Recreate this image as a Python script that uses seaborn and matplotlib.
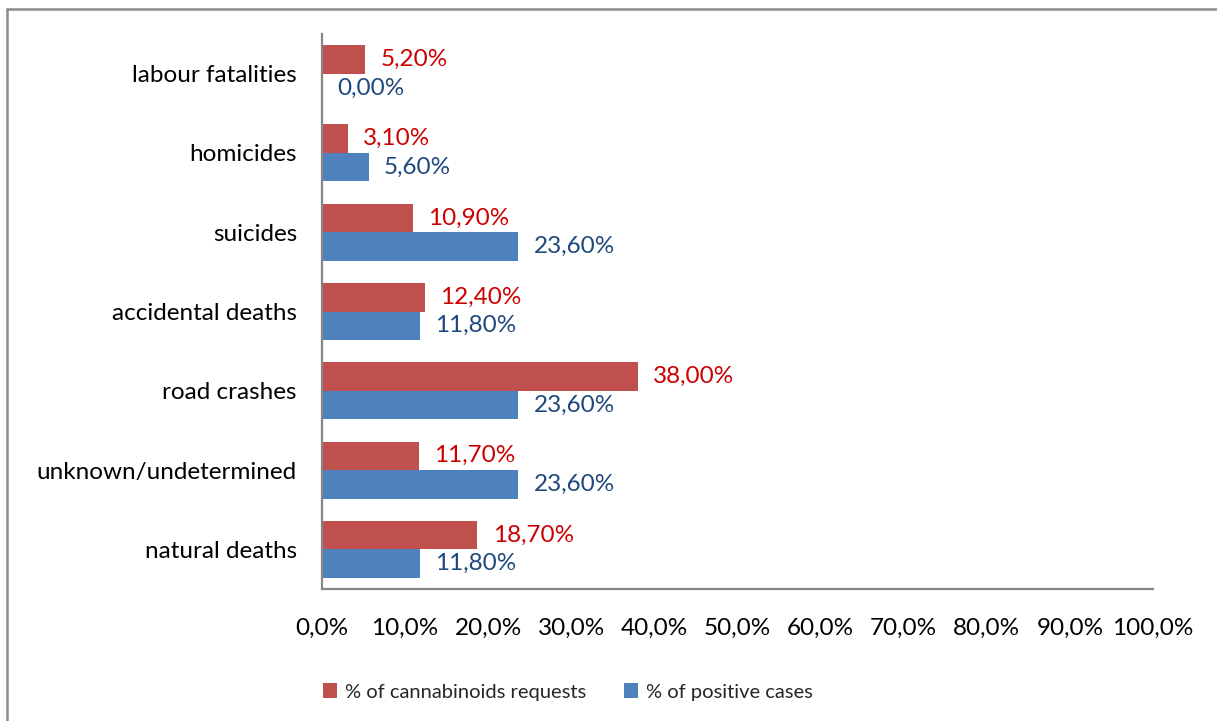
import matplotlib
matplotlib.use("Agg")
import matplotlib.pyplot as plt
from matplotlib.lines import Line2D
from matplotlib.patches import Patch
import pandas as pd
import seaborn as sns

categories = ["labour fatalities", "homicides", "suicides", "accidental deaths",
              "road crashes", "unknown/undetermined", "natural deaths"]
requests_pct = [5.2, 3.1, 10.9, 12.4, 38.0, 11.7, 18.7]
positive_pct = [0.0, 5.6, 23.6, 11.8, 23.6, 23.6, 11.8]
series_names = ["% of cannabinoids requests", "% of positive cases"]
x_ticks = [0, 10, 20, 30, 40, 50, 60, 70, 80, 90, 100]

bar_colors = ["#C0504D", "#4F81BD"]
text_colors = ["#CC0000", "#1F497D"]

df = pd.DataFrame({
    "category": categories * 2,
    "value": requests_pct + positive_pct,
    "series": [series_names[0]] * len(categories) + [series_names[1]] * len(categories),
})

sns.set_theme(style="white")
plt.rcParams["font.family"] = ["Lato", "DejaVu Sans"]

fig = plt.figure(figsize=(12.17, 7.21), dpi=100)
ax = fig.add_axes([322 / 1217, 1 - 589 / 721, (1153 - 322) / 1217, (589 - 34) / 721])

sns.barplot(data=df, x="value", y="category", hue="series", order=categories,
            hue_order=series_names, palette=bar_colors, orient="h",
            width=0.72, saturation=1, linewidth=0, ax=ax, legend=False)

ax.set_xlim(0, 100)
ax.set_ylim(len(categories) - 0.5, -0.5)
ax.set_xticks(x_ticks)
ax.set_xticklabels([f"{t:.1f}%".replace(".", ",") for t in x_ticks], fontsize=17.5, color="black")
ax.tick_params(axis="x", length=0, pad=21)
ax.tick_params(axis="y", length=0, pad=18, labelsize=17.5, labelcolor="black")
ax.set_xlabel("")
ax.set_ylabel("")

for side in ["top", "right"]:
    ax.spines[side].set_visible(False)
for side in ["left", "bottom"]:
    ax.spines[side].set_color("#868686")
    ax.spines[side].set_linewidth(1.6)

# value labels next to each bar
for container, color in zip(ax.containers, text_colors):
    labels = [f"{bar.get_width():.2f}%".replace(".", ",") for bar in container]
    ax.bar_label(container, labels=labels, padding=11, color=color, fontsize=17.5)

handles = [Patch(facecolor=c, edgecolor="none") for c in bar_colors]
fig.legend(handles, series_names, loc="center", bbox_to_anchor=(568 / 1217, 1 - 692 / 721),
           ncol=2, frameon=False, fontsize=14.5, handlelength=0.7, handleheight=0.7,
           handletextpad=0.4, columnspacing=1.9)

# outer frame around the chart area
fig.add_artist(Line2D([7 / 1217, 7 / 1217], [0, 1 - 9 / 721], transform=fig.transFigure,
                      color="#8C8C8C", linewidth=1.8))
fig.add_artist(Line2D([7 / 1217, 1], [1 - 9 / 721, 1 - 9 / 721], transform=fig.transFigure,
                      color="#8C8C8C", linewidth=1.8))

fig.savefig("out.png", dpi=100)
